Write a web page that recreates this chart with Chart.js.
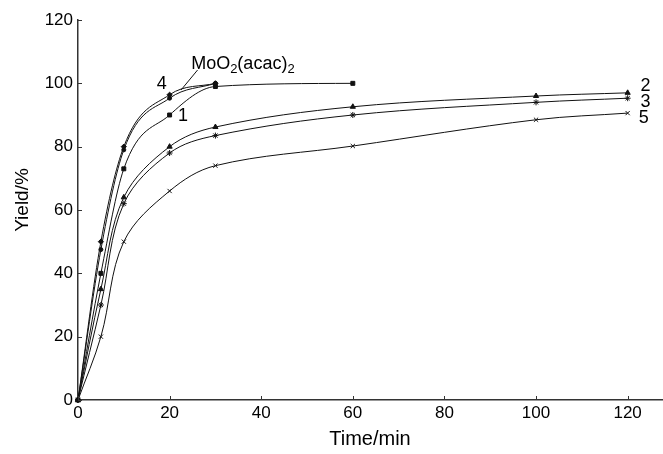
<!DOCTYPE html>
<html><head><meta charset="utf-8">
<script src="https://cdn.jsdelivr.net/npm/chart.js@4.4.0/dist/chart.umd.min.js"></script>
<style>html,body{margin:0;padding:0;background:#fff;overflow:hidden}#wrap{width:667px;height:454px;position:relative}</style>
</head><body><div id="wrap"><canvas id="c"></canvas></div>
<script>
// Time points (min) for each series
const timesLong = [0, 5, 10, 20, 30, 60, 100, 120];
const times1 = [0, 5, 10, 20, 30, 60];
const times4 = [0, 5, 10, 20, 30];
const timesMo = [0, 5, 10, 20, 30];
// Yield (%) values
const series1 = [0, 40, 73, 90, 99, 100];
const series4 = [0, 50, 80, 96.4, 100];
const seriesMo = [0, 47.5, 79, 95.3, 100];
const series2 = [0, 35, 64, 80, 86.2, 92.6, 96, 97];
const series3 = [0, 30, 62, 78, 83.5, 90, 94, 95.3];
const series5 = [0, 20, 50, 66, 74, 80.2, 88.5, 90.6];
const xTickValues = [0, 20, 40, 60, 80, 100, 120];
const yTickValues = [0, 20, 40, 60, 80, 100, 120];

const FONT = "'Liberation Sans', Arial, Helvetica, sans-serif";
function zip(t, v) { return t.map((x, i) => ({x: x, y: v[i]})); }

function ds(label, t, v, style, r, mono) {
  const d = {
    label: label, data: zip(t, v), borderColor: '#111', backgroundColor: '#111',
    borderWidth: 1, pointStyle: style, pointRadius: r, pointBorderWidth: 1,
    pointBackgroundColor: '#111', pointBorderColor: '#111',
    tension: 0.35, clip: false
  };
  if (mono) d.cubicInterpolationMode = 'monotone';
  return d;
}

const annotations = {
  id: 'annotations',
  afterDatasetsDraw(chart) {
    const ctx = chart.ctx, xs = chart.scales.x, ys = chart.scales.y;
    const ca = chart.chartArea;
    ctx.save();
    // inward tick marks
    ctx.strokeStyle = '#333'; ctx.lineWidth = 1;
    xTickValues.forEach(v => {
      const px = Math.round(xs.getPixelForValue(v)) + 0.5;
      ctx.beginPath(); ctx.moveTo(px, ca.bottom); ctx.lineTo(px, ca.bottom - 4); ctx.stroke();
    });
    yTickValues.forEach(v => {
      const py = Math.round(ys.getPixelForValue(v)) + 0.5;
      ctx.beginPath(); ctx.moveTo(ca.left, py); ctx.lineTo(ca.left + 4, py); ctx.stroke();
    });
    ctx.fillStyle = '#000';
    // y axis title
    ctx.save();
    ctx.translate(23, (ca.top + ca.bottom) / 2 - 10);
    ctx.rotate(-Math.PI / 2);
    ctx.textAlign = 'center'; ctx.textBaseline = 'middle';
    ctx.font = '19px ' + FONT;
    ctx.fillText('Yield/%', 0, 0);
    ctx.restore();

    ctx.textAlign = 'center'; ctx.textBaseline = 'middle';
    ctx.font = '18px ' + FONT;
    const lab = (txt, t, v) => ctx.fillText(txt, xs.getPixelForValue(t), ys.getPixelForValue(v));
    lab('4', 18.3, 99.9);
    lab('1', 22.9, 89.8);
    lab('2', 123.9, 99.3);
    lab('3', 123.9, 94.2);
    lab('5', 123.5, 88.9);
    // MoO2(acac)2 label with subscripts
    ctx.textAlign = 'left'; ctx.textBaseline = 'alphabetic';
    let x = xs.getPixelForValue(24.7), y = ys.getPixelForValue(104.4);
    const parts = [['MoO', false], ['2', true], ['(acac)', false], ['2', true]];
    parts.forEach(([s, sub]) => {
      ctx.font = (sub ? '13px ' : '18px ') + FONT;
      ctx.fillText(s, x, sub ? y + 4 : y);
      x += ctx.measureText(s).width;
    });
    // leader line
    ctx.beginPath();
    ctx.moveTo(xs.getPixelForValue(26.1), ys.getPixelForValue(104.2));
    ctx.lineTo(xs.getPixelForValue(22.5), ys.getPixelForValue(97.9));
    ctx.strokeStyle = '#111'; ctx.lineWidth = 1; ctx.stroke();
    ctx.restore();
  }
};

new Chart(document.getElementById('c'), {
  type: 'line',
  data: {
    datasets: [
      ds('1', times1, series1, 'rect', 2.8, true),
      ds('4', times4, series4, 'rectRot', 2.6, true),
      ds('MoO2(acac)2', timesMo, seriesMo, 'circle', 2, true),
      ds('2', timesLong, series2, 'triangle', 3),
      ds('3', timesLong, series3, 'star', 3),
      ds('5', timesLong, series5, 'crossRot', 3)
    ]
  },
  options: {
    responsive: true, maintainAspectRatio: false, animation: false,
    layout: {padding: {top: 20, right: 1, left: 0, bottom: 0}},
    plugins: {legend: {display: false}, tooltip: {enabled: false}},
    scales: {
      x: {
        type: 'linear', min: 0, max: 127.5,
        afterBuildTicks: s => { s.ticks = xTickValues.map(v => ({value: v})); },
        afterFit: s => { s.height = 54; },
        ticks: {stepSize: 20, color: '#000', padding: 3, font: {family: FONT, size: 17}, maxRotation: 0},
        grid: {drawOnChartArea: false, drawTicks: false},
        border: {color: '#333', width: 1.5},
        title: {display: true, text: 'Time/min', color: '#000', font: {family: FONT, size: 20}, padding: {top: 0, bottom: 3}}
      },
      y: {
        type: 'linear', min: 0, max: 120,
        afterBuildTicks: s => { s.ticks = yTickValues.map(v => ({value: v})); },
        afterFit: s => { s.width = 78; },
        ticks: {stepSize: 20, color: '#000', padding: 5, font: {family: FONT, size: 17}},
        grid: {drawOnChartArea: false, drawTicks: false},
        border: {color: '#333', width: 1.5},
        title: {display: false}
      }
    }
  },
  plugins: [annotations]
});
</script>
</body></html>
